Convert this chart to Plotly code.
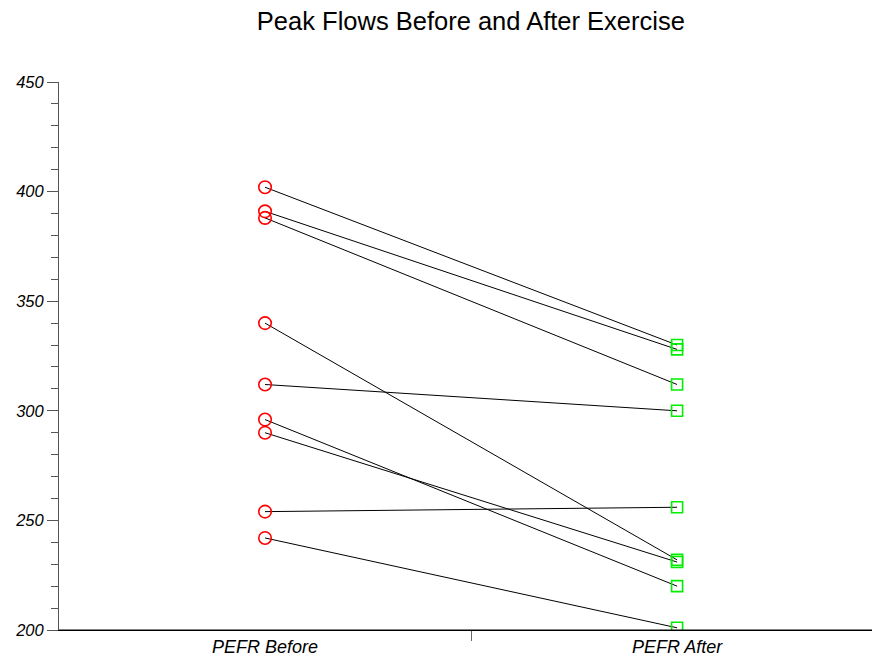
import plotly.graph_objects as go

categories = ["PEFR Before", "PEFR After"]
cat_pos = [1, 2]
pefr_before = [312, 242, 340, 388, 296, 254, 391, 402, 290]
pefr_after = [300, 201, 232, 312, 220, 256, 328, 330, 231]
y_ticks = [200, 250, 300, 350, 400, 450]

fig = go.Figure()
for b, a in zip(pefr_before, pefr_after):
    fig.add_trace(go.Scatter(x=cat_pos, y=[b, a], mode="lines",
                             line=dict(color="black", width=1), showlegend=False,
                             hoverinfo="skip"))
fig.add_trace(go.Scatter(x=[cat_pos[0]] * len(pefr_before), y=pefr_before, mode="markers",
                         marker=dict(symbol="circle-open", size=12.5, color="#ff0000",
                                     line=dict(width=1.6)), showlegend=False))
fig.add_trace(go.Scatter(x=[cat_pos[1]] * len(pefr_after), y=pefr_after, mode="markers",
                         marker=dict(symbol="square-open", size=11, color="#00ee00",
                                     line=dict(width=1.6)), showlegend=False))

font_fam = "Liberation Sans, Arial, sans-serif"
fig.update_layout(
    width=872, height=661,
    margin=dict(l=59, r=0, t=82, b=31),
    paper_bgcolor="white", plot_bgcolor="white",
    title=dict(text="Peak Flows Before and After Exercise", x=0.54, xanchor="center",
               y=0.968, yanchor="middle",
               font=dict(family=font_fam, size=25.5, color="black")),
    xaxis=dict(range=[0.5, 2.473], tickvals=cat_pos, ticktext=categories,
               ticks="", showgrid=False, zeroline=False,
               showline=True, linecolor="black", linewidth=1,
               tickfont=dict(family=font_fam, size=18, color="black", style="italic"),
               minor=dict(tickvals=[1.5], ticks="outside", ticklen=10, tickcolor="#666666",
                          tickwidth=1, showgrid=False)),
    yaxis=dict(range=[200, 450], tickvals=y_ticks, ticks="outside", ticklen=11,
               tickcolor="#555555", tickwidth=1, showgrid=False, zeroline=False,
               showline=True, linecolor="#555555", linewidth=1,
               tickfont=dict(family=font_fam, size=16.5, color="black", style="italic"),
               minor=dict(dtick=10, ticks="outside", ticklen=7, tickcolor="#555555",
                          tickwidth=1, showgrid=False)),
    shapes=[dict(type="line", xref="x domain", yref="y domain", x0=0, x1=1, y0=0, y1=0,
                 line=dict(color="black", width=1), layer="above")],
)
fig.write_html("out.html",
               config={"displayModeBar": False},
               post_script=("document.body.style.margin='0';"
                            "document.body.style.overflow='hidden';"
                            "document.documentElement.style.overflow='hidden';"))
